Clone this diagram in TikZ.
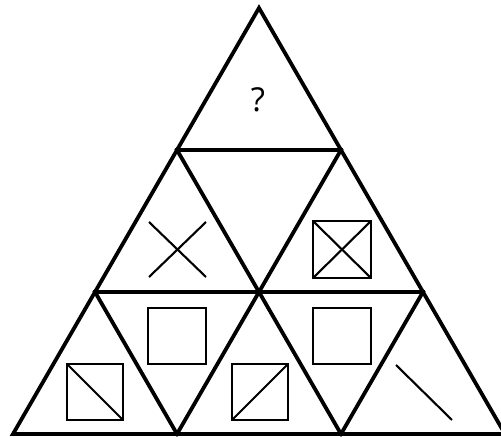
\documentclass[tikz,border=0pt]{standalone}
\usepackage{fontspec}
\setmainfont{Open Sans}
\begin{document}
\begin{tikzpicture}[x=1pt,y=-1pt,
  frame/.style={line width=3.8pt,line join=miter,line cap=rect},
  glyph/.style={line width=2.1pt},
  qmark/.style={font=\fontsize{33}{36}\selectfont,inner sep=0pt}]
\useasboundingbox (0,0) rectangle (501,438);
\clip (0,0) rectangle (501,438);
% grid vertices
\coordinate (A) at (259,8);
\coordinate (B1) at (177,150);
\coordinate (B2) at (341,150);
\coordinate (C1) at (95,292);
\coordinate (C2) at (259,292);
\coordinate (C3) at (423,292);
\coordinate (D1) at (13,434);
\coordinate (D2) at (177,434);
\coordinate (D3) at (341,434);
\coordinate (D4) at (505,434);
% frame lines
\draw[frame] (A) -- (D1) -- (D4) -- cycle;
\draw[frame] (B1) -- (B2);
\draw[frame] (C1) -- (C3);
\draw[frame] (B1) -- (D3);
\draw[frame] (B2) -- (D2);
\draw[frame] (C1) -- (D2);
\draw[frame] (C3) -- (D3);
% top: question mark
\node[qmark] (q) at (258,100) {?};
% middle left: X
\draw[glyph] (149,222) -- (206,277);
\draw[glyph] (149,277) -- (206,222);
% middle right: crossed square
\draw[glyph] (313,221) rectangle (371,278);
\draw[glyph] (313,221) -- (371,278);
\draw[glyph] (313,278) -- (371,221);
% bottom row
\draw[glyph] (67,364) rectangle (123,420);
\draw[glyph] (67,364) -- (123,420);
\draw[glyph] (148,308) rectangle (206,364);
\draw[glyph] (232,364) rectangle (288,420);
\draw[glyph] (232,420) -- (288,364);
\draw[glyph] (313,308) rectangle (371,364);
\draw[glyph] (396,365) -- (452,420);
\end{tikzpicture}
\end{document}
